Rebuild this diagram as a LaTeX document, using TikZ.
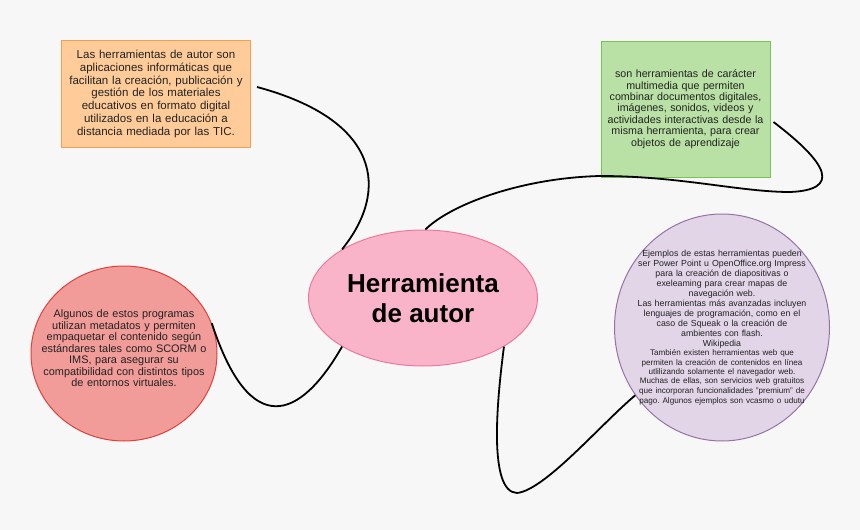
\documentclass[tikz,border=0pt]{standalone}
\usepackage{fontspec}
\setmainfont{Liberation Sans}
\usetikzlibrary{shapes.geometric}
\definecolor{bggray}   {RGB}{247, 247, 247}
\definecolor{inktext}  {RGB}{34,  34,  34}
\definecolor{orfill}   {RGB}{255, 204, 153}
\definecolor{orline}   {RGB}{240, 160, 80}
\definecolor{grfill}   {RGB}{185, 224, 165}
\definecolor{grline}   {RGB}{120, 196, 80}
\definecolor{rdfill}   {RGB}{241, 156, 153}
\definecolor{rdline}   {RGB}{226, 64,  60}
\definecolor{pufill}   {RGB}{225, 213, 231}
\definecolor{puline}   {RGB}{150, 115, 166}
\definecolor{pkfill}   {RGB}{249, 180, 201}
\definecolor{pkline}   {RGB}{240, 120, 160}
\frenchspacing

\begin{document}
\begin{tikzpicture}[
  x=1pt, y=-1pt,
  note/.style={draw, line width=1pt, inner sep=0pt, align=center,
    text=inktext},
  blob/.style={note, ellipse},
  link/.style={line width=1.8pt, black},
]

%% ─── 座標系 ────────────────────────────────────────────────
%%  1 unit = 1 px of the 860 x 530 canvas, y grows downwards

% ── fondo ──────────────────────────────────────────────────
\fill[bggray] (0,0) rectangle (860,530);

% ── nodo central ───────────────────────────────────────────
\node[blob, fill=pkfill, draw=pkline, minimum width=229, minimum height=136,
  font=\bfseries\fontsize{26}{30}\selectfont, text=black]
  (hub) at (423,298) {Herramienta\\de autor};

% ── rectángulo naranja ─────────────────────────────────────
\node[note, fill=orfill, draw=orline, minimum width=189, minimum height=107,
  text width=185, font=\fontsize{11.5}{12.7}\selectfont]
  (orange) at (156,94)
  {Las herramientas de autor son\\
   aplicaciones informáticas que\\
   facilitan la creación, publicación y\\
   gestión de los materiales\\
   educativos en formato digital\\
   utilizados en la educación a\\
   distancia mediada por las TIC.};

% ── rectángulo verde ───────────────────────────────────────
\node[note, fill=grfill, draw=grline, minimum width=169, minimum height=136,
  text width=165, font=\fontsize{10.7}{11.4}\selectfont]
  (green) at (685.5,109)
  {son herramientas de carácter\\
   multimedia que permiten\\
   combinar documentos digitales,\\
   imágenes, sonidos, videos y\\
   actividades interactivas desde la\\
   misma herramienta, para crear\\
   objetos de aprendizaje};

% ── círculo rojo ───────────────────────────────────────────
\node[blob, fill=rdfill, draw=rdline, minimum width=186, minimum height=175,
  text width=170, inner xsep=-20pt, font=\fontsize{10.9}{11.5}\selectfont]
  (red) at (124,353.5)
  {Algunos de estos programas\\
   utilizan metadatos y permiten\\
   empaquetar el contenido según\\
   estándares tales como SCORM o\\
   IMS, para asegurar su\\
   compatibilidad con distintos tipos\\
   de entornos virtuales.\par\vspace*{10pt}};

% ── círculo morado ─────────────────────────────────────────
\node[blob, fill=pufill, draw=puline, minimum width=215, minimum height=227,
  text width=170, inner xsep=-12pt, font=\fontsize{8.8}{10}\selectfont]
  (purple) at (722,327.5)
  {Ejemplos de estas herramientas pueden\\
   ser Power Point u OpenOffice.org Impress\\
   para la creación de diapositivas o\\
   exeleaming para crear mapas de\\
   navegación web.\\
   Las herramientas más avanzadas incluyen\\
   lenguajes de programación, como en el\\
   caso de Squeak o la creación de\\
   ambientes con flash.\\
   Wikipedia\\
   \fontsize{8.1}{9.3}\selectfont
   También existen herramientas web que\\
   permiten la creación de contenidos en línea\\
   utlilizando solamente el navegador web.\\
   Muchas de ellas, son servicios web gratuitos\\
   que incorporan funcionalidades "premium" de\\
   pago. Algunos ejemplos son vcasmo o udutu};


% ════════════════════════════════════════════════════════════
%  conectores
% ════════════════════════════════════════════════════════════

% ── naranja → central ──────────────────────────────────────
\draw[link] ([shift={(6,-7)}]orange.east)
  .. controls (380,120) and (390,190) .. (hub.149);

% ── rojo → central ─────────────────────────────────────────
\draw[link] (red.19)
  .. controls (250,440) and (300,420) .. (hub.211);

% ── central → verde (pasa bajo la caja) ────────────────────
\draw[link] (hub.88)
  .. controls (450,205) and (520,178) .. (600,176)
  .. controls (680,176) and (740,192) .. (790,192)
  .. controls (840,190) and (830,165) .. ([shift={(3,13)}]green.east);

% ── central → morado ───────────────────────────────────────
\draw[link] (hub.-31)
  .. controls (497,400) and (488,492) .. (517,493)
  .. controls (545,490) and (600,425) .. (purple.218);

\end{tikzpicture}
\end{document}
